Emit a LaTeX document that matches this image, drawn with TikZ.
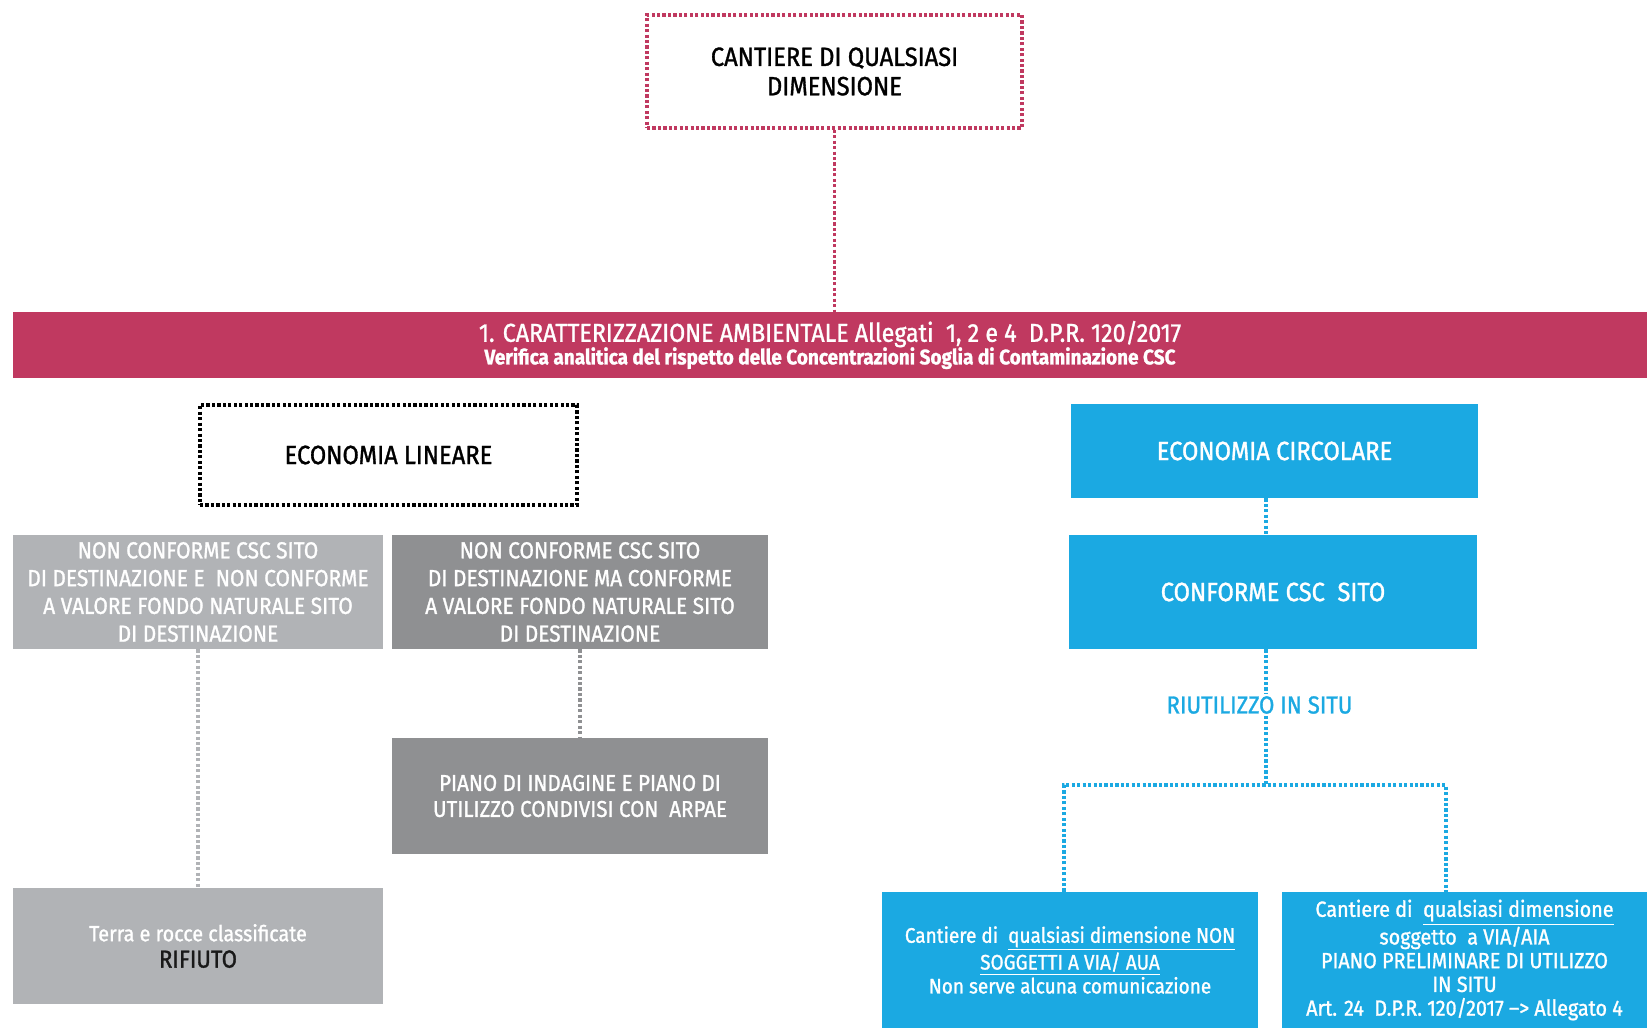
\documentclass[tikz,border=0pt]{standalone}
\usepackage{fontspec}
\setmainfont{Fira Sans}[FakeStretch=0.9,FakeBold=1.2]
\usetikzlibrary{positioning}
\definecolor{bordeaux}{RGB}{192,57,96}
\definecolor{azzurro}{RGB}{27,169,226}
\definecolor{grigiochiaro}{RGB}{177,179,182}
\definecolor{grigioscuro}{RGB}{143,144,146}
\newcommand{\corpo}[2]{\fontsize{#1}{#2}\selectfont}

\begin{document}
\begin{tikzpicture}[
        puntini/.style={line width=2pt,dash pattern=on 1.8pt off 1.3pt},
        cornice/.style={rectangle,puntini,align=center,inner sep=0pt},
        blocco/.style={rectangle,align=center,inner sep=0pt,text=white},
    ]
        \useasboundingbox (0,0) rectangle (32.94,-20.56);
        % parte alta
        \node[cornice,draw=bordeaux,minimum width=7.5cm,minimum height=2.26cm,font=\corpo{15}{16.7}] at (16.69,-1.43) (cantiere) {CANTIERE DI QUALSIASI\\DIMENSIONE};
        \node[blocco,fill=bordeaux,minimum width=32.68cm,minimum height=1.32cm] at (16.6,-6.9) (fascia) {{\corpo{14.7}{15}1. CARATTERIZZAZIONE AMBIENTALE Allegati\ \ 1, 2 e 4\ \ D.P.R. 120/2017}\\[-1pt]{\corpo{12}{13}\bfseries Verifica analitica del rispetto delle Concentrazioni Soglia di Contaminazione CSC}};
        \draw[puntini,bordeaux] (cantiere.south) -- (cantiere.south |- fascia.north);
        % economia lineare
        \node[cornice,draw=black,minimum width=7.54cm,minimum height=2cm,font=\corpo{15}{16}] at (7.77,-9.1) (lineare) {ECONOMIA LINEARE};
        \node[blocco,fill=grigiochiaro,minimum width=7.4cm,minimum height=2.28cm,font=\corpo{13.2}{15.8}] at (3.96,-11.84) (noncf) {NON CONFORME CSC SITO\\DI DESTINAZIONE E\ \ NON CONFORME\\A VALORE FONDO NATURALE SITO\\DI DESTINAZIONE};
        \node[blocco,fill=grigioscuro,minimum width=7.52cm,minimum height=2.28cm,font=\corpo{13.2}{15.8}] at (11.6,-11.84) (macf) {NON CONFORME CSC SITO\\DI DESTINAZIONE MA CONFORME\\A VALORE FONDO NATURALE SITO\\DI DESTINAZIONE};
        \node[blocco,fill=grigioscuro,minimum width=7.52cm,minimum height=2.32cm,font=\corpo{13}{14.8}] at (11.6,-15.92) (piano) {PIANO DI INDAGINE E PIANO DI\\UTILIZZO CONDIVISI CON\ \ ARPAE};
        \node[blocco,fill=grigiochiaro,minimum width=7.4cm,minimum height=2.32cm,font=\corpo{12.5}{15}] at (3.96,-18.92) (rifiuto) {Terra e rocce classificate\\{\corpo{14}{15}\color{black!90}RIFIUTO}};
        \draw[puntini,grigiochiaro] (noncf.south) -- (rifiuto.north);
        \draw[puntini,grigioscuro] (macf.south) -- (piano.north);
        % economia circolare
        \coordinate (bivio) at (25.32,-15.7);
        \coordinate (bivioS) at (21.28,-15.7);
        \coordinate (bivioD) at (28.92,-15.7);
        \node[blocco,fill=azzurro,minimum width=8.14cm,minimum height=1.88cm,font=\corpo{15}{16}] at (25.49,-9.02) (circolare) {ECONOMIA CIRCOLARE};
        \node[blocco,fill=azzurro,minimum width=8.16cm,minimum height=2.28cm,font=\corpo{15}{16}] at (25.46,-11.84) (conforme) {CONFORME CSC\ \ SITO};
        \node[text=azzurro,inner sep=1pt,font=\corpo{14}{16}] at (25.19,-14.1) (riuso) {RIUTILIZZO IN SITU};
        \node[blocco,fill=azzurro,minimum width=7.52cm,minimum height=2.72cm,font=\corpo{12}{13.6}] at (21.4,-19.2) (nonsog) {Cantiere di\ \ \underline{qualsiasi dimensione NON}\\\underline{SOGGETTI A VIA/ AUA}\\Non serve alcuna comunicazione};
        \node[blocco,fill=azzurro,minimum width=7.3cm,minimum height=2.72cm,font=\corpo{12.5}{13.5}] at (29.29,-19.2) (sog) {Cantiere di\ \ \underline{qualsiasi dimensione}\\soggetto\ \ a VIA/AIA\\PIANO PRELIMINARE DI UTILIZZO\\IN SITU\\Art. 24\ \ D.P.R. 120/2017 --> Allegato 4};
        \draw[puntini,azzurro] (circolare.south -| bivio) -- (conforme.north -| bivio);
        \draw[puntini,azzurro] (conforme.south -| bivio) -- (riuso.north -| bivio);
        \draw[puntini,azzurro] (riuso.south -| bivio) -- (bivio);
        \draw[puntini,azzurro] (nonsog.north -| bivioS) -- (bivioS) -- (bivioD) -- (sog.north -| bivioD);
    \end{tikzpicture}
\end{document}
